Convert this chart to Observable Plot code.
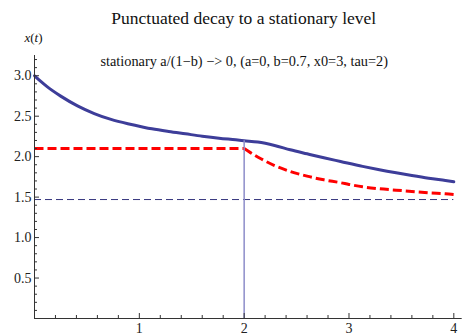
<!DOCTYPE html>
<html><head><meta charset="utf-8">
<script src="https://cdn.jsdelivr.net/npm/d3@7"></script>
<script src="https://cdn.jsdelivr.net/npm/@observablehq/plot@0.6"></script>
<style>body{margin:0;background:#fff} svg{display:block}</style>
</head><body><div id="chart"></div>
<script>
const title = "Punctuated decay to a stationary level";
const note = "stationary a/(1\u2212b) \u2212> 0, (a=0, b=0.7, x0=3, tau=2)";

// blue (solid) path x(t)
const tBlue = [0, 0.06, 0.12, 0.25, 0.41, 0.57, 0.73, 0.89, 1.04, 1.12, 1.28, 1.44, 1.6, 1.76, 1.92, 2.0, 2.13, 2.29, 2.44, 2.6, 2.76, 2.92, 3.13, 3.29, 3.45, 3.6, 3.76, 3.92, 4.0];
const xBlue = [3.0, 2.93, 2.865, 2.748, 2.628, 2.533, 2.46, 2.406, 2.364, 2.344, 2.311, 2.282, 2.253, 2.228, 2.208, 2.197, 2.18, 2.138, 2.085, 2.035, 1.986, 1.94, 1.88, 1.838, 1.80, 1.767, 1.734, 1.705, 1.69];

// red (dashed) level: flat before tau, decaying after
const tRedFlat = [0, 2];
const xRedFlat = [2.1, 2.1];
const tRedDecay = [2.0, 2.06, 2.16, 2.29, 2.44, 2.6, 2.76, 2.92, 3.0, 3.13, 3.29, 3.45, 3.6, 3.76, 3.92, 4.0];
const xRedDecay = [2.1, 2.05, 1.974, 1.89, 1.817, 1.759, 1.714, 1.678, 1.657, 1.627, 1.603, 1.586, 1.57, 1.553, 1.541, 1.532];

const stationaryLevel = 1.47;
const tau = 2;
const xAtTau = 2.197;
const tEnd = 4;

const xMajor = [1, 2, 3, 4];
const xMajorLabels = ["1", "2", "3", "4"];
const yMajor = [0.5, 1.0, 1.5, 2.0, 2.5, 3.0];
const yMajorLabels = ["0.5", "1.0", "1.5", "2.0", "2.5", "3.0"];
const xMinor = d3.range(1, 20).map(i => i * 0.2).filter(v => Math.abs(v - Math.round(v)) > 1e-6);
const yMinor = d3.range(1, 33).map(i => i * 0.1).filter(v => Math.abs(v * 2 - Math.round(v * 2)) > 1e-6);

const W = 471, H = 336, mL = 34, mR = 9.3, mT = 55, mB = 18;
const xDom = [0, 4.08], yDom = [0, 3.25];
const pxX = (W - mL - mR) / (xDom[1] - xDom[0]);
const pxY = (H - mT - mB) / (yDom[1] - yDom[0]);

const blue = tBlue.map((t, i) => ({t, v: xBlue[i]}));
const redFlat = tRedFlat.map((t, i) => ({t, v: xRedFlat[i]}));
const redDecay = tRedDecay.map((t, i) => ({t, v: xRedDecay[i]}));

const font = "'Liberation Serif', 'Times New Roman', serif";
const axisColor = "#333";

const plot = Plot.plot({
  width: W, height: H,
  marginLeft: mL, marginRight: mR, marginTop: mT, marginBottom: mB,
  x: {domain: xDom, axis: null},
  y: {domain: yDom, axis: null},
  style: {fontFamily: font, background: "#fff"},
  marks: [
    Plot.ruleY([stationaryLevel], {x1: 0, x2: tEnd, stroke: "#36367e", strokeWidth: 1, strokeDasharray: "7,4"}),
    Plot.line(redFlat, {x: "t", y: "v", stroke: "#ff0000", strokeWidth: 3, strokeDasharray: "9,4", strokeLinecap: "butt"}),
    Plot.line(redDecay, {x: "t", y: "v", stroke: "#ff0000", strokeWidth: 3, strokeDasharray: "9,4", strokeLinecap: "butt", curve: "monotone-x"}),
    Plot.line(blue, {x: "t", y: "v", stroke: "#3d3d99", strokeWidth: 3, curve: "monotone-x"}),
    Plot.ruleX([tau], {y1: 0, y2: xAtTau, stroke: "#8d8dc9", strokeWidth: 1.5}),
    // axes lines
    Plot.ruleY([0], {stroke: axisColor, strokeWidth: 1}),
    Plot.ruleX([0], {stroke: axisColor, strokeWidth: 1}),
    // ticks (pointing inward)
    Plot.ruleX(xMajor, {x: d => d, y1: 0, y2: 5 / pxY, stroke: axisColor}),
    Plot.ruleX(xMinor, {x: d => d, y1: 0, y2: 3 / pxY, stroke: axisColor}),
    Plot.ruleY(yMajor, {y: d => d, x1: 0, x2: 5 / pxX, stroke: axisColor}),
    Plot.ruleY(yMinor, {y: d => d, x1: 0, x2: 3 / pxX, stroke: axisColor}),
    // tick labels
    Plot.text(xMajor, {x: d => d, text: (d, i) => xMajorLabels[i], frameAnchor: "bottom", lineAnchor: "top", dy: 5, fontSize: 14, fill: "#222"}),
    Plot.text(yMajor, {y: d => d, text: (d, i) => yMajorLabels[i], frameAnchor: "left", textAnchor: "end", dx: -3, fontSize: 14, fill: "#222"}),
    // title, annotation, y label
    Plot.text([title], {frameAnchor: "top", dy: -32, dx: -4.6, lineAnchor: "bottom", fontSize: 17.5, fill: "#111"}),
    Plot.text([note], {x: 2, y: 3.18, fontSize: 14.3, fill: "#111"}),
    Plot.text(["x(t)"], {frameAnchor: "top-left", dx: -1, dy: -14, lineAnchor: "bottom", textAnchor: "middle", fontSize: 13, fill: "#111", className: "ylab"})
  ]
});
document.getElementById("chart").appendChild(plot);
plot.querySelectorAll("text").forEach(t => t.setAttribute("font-family", "Liberation Serif, serif"));
// italic variables in y label
const yl = plot.querySelector(".ylab text");
if (yl) {
  yl.textContent = "";
  const parts = [["x", true], ["(", false], ["t", true], [")", false]];
  for (const [s, it] of parts) {
    const ts = document.createElementNS("http://www.w3.org/2000/svg", "tspan");
    ts.textContent = s;
    if (it) ts.setAttribute("font-style", "italic");
    yl.appendChild(ts);
  }
}
</script>
</body></html>
